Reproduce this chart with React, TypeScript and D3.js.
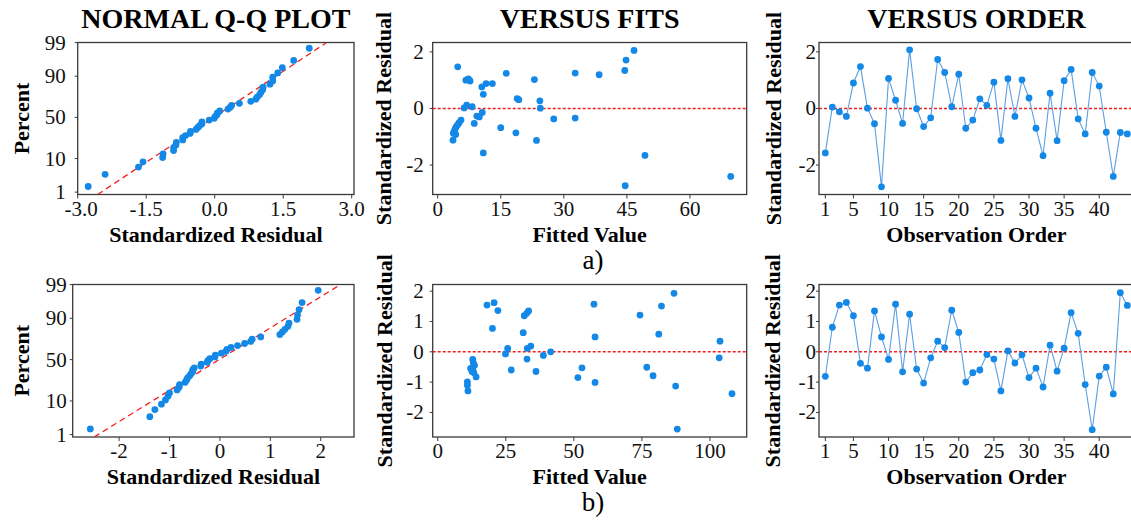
import React from 'react';
import * as d3 from 'd3';

const FONT = "'Liberation Serif', 'Times New Roman', Times, serif";

// ---------- data ----------
const residA = [-1.57, 0.05, -0.12, -0.28, 0.9, 1.48, 0.01, -0.54, -2.77, 1.06, 0.29, -0.53, 2.07, -0.01, -0.64, -0.33, 1.73, 1.27, 0.06, 1.21, -0.7, -0.41, 0.34, 0.11, 0.93, -1.13, 1.05, -0.28, 1.01, 0.37, -0.7, -1.67, 0.54, -1.14, 0.98, 1.38, -0.37, -0.9, 1.27, 0.79, -0.84, -2.4, -0.85, -0.9];
const fitsAX = [4.76, 6.7, 7.3, 7.7, 10.5, 11.5, 13.0, 10.85, 16.3, 18.9, 19.3, 6.3, 6.9, 8.2, 9.3, 9.9, 10.6, 8.7, 15.0, 18.6, 10.85, 5.54, 5.07, 4.67, 4.35, 4.11, 3.87, 3.71, 4.28, 3.64, 23.0, 24.3, 24.4, 23.5, 27.6, 32.7, 32.7, 38.4, 44.5, 44.8, 46.7, 49.3, 44.6, 69.7];
const fitsAY = [1.47, 1.0, 1.04, 0.97, 0.76, 0.88, 0.88, 0.5, 1.24, 0.35, 0.31, 0.02, 0.12, 0.06, -0.27, -0.3, -0.14, -0.53, -0.68, -0.86, -1.57, -0.41, -0.51, -0.59, -0.66, -0.73, -0.83, -0.88, -0.92, -1.12, 1.02, 0.27, 0.01, -1.13, -0.37, 1.25, -0.34, 1.19, 1.34, 1.71, 2.05, -1.66, -2.73, -2.4];

const residB = [-0.81, 0.81, 1.54, 1.63, 1.19, -0.38, -0.54, 1.35, 0.49, -0.25, 1.57, -0.66, 1.24, -0.57, -1.03, -0.2, 0.35, 0.14, 1.37, 0.64, -1.0, -0.69, -0.6, -0.09, -0.24, -1.29, 0.03, -0.37, -0.1, -0.85, -0.54, -1.16, 0.22, -0.64, 0.12, 1.29, 0.61, -1.08, -2.57, -0.8, -0.51, -1.39, 1.95, 1.53];
const fitsBX = [18.1, 20.7, 22.1, 20.1, 12.85, 13.1, 12.1, 12.85, 13.3, 14.1, 13.5, 12.6, 10.9, 10.9, 11.1, 24.9, 25.7, 27.0, 31.4, 31.8, 32.7, 33.4, 32.9, 34.2, 32.8, 36.1, 38.8, 41.5, 51.5, 53.0, 57.4, 57.8, 57.8, 74.3, 76.8, 79.1, 81.2, 82.2, 86.8, 87.4, 88.0, 103.7, 103.4, 108.1];
const fitsBY = [1.54, 1.62, 1.36, 0.77, -0.25, -0.37, -0.55, -0.6, -0.69, -0.83, -0.45, -0.65, -0.99, -1.1, -1.29, -0.07, 0.11, -0.6, 0.63, 1.19, 1.27, 1.35, 0.11, 0.19, -0.24, -0.65, -0.12, 0.0, -0.85, -0.53, 1.57, 0.49, -1.01, 1.21, -0.51, -0.79, 0.58, 1.51, 1.93, -1.13, -2.55, 0.35, -0.2, -1.38];

// fitted normal line: [mean, sd]
const qqLineA = [-0.02, 1.06];
const qqLineB = [-0.015, 1.033];

const pctTicks = [1, 10, 50, 90, 99];
const qqTicksA = [-3, -1.5, 0, 1.5, 3];
const qqTicksB = [-2, -1, 0, 1, 2];
const fitsTicksA = [0, 15, 30, 45, 60];
const fitsTicksB = [0, 25, 50, 75, 100];
const orderTicks = [1, 5, 10, 15, 20, 25, 30, 35, 40];
const residTicksA = [-2, 0, 2];
const residTicksB = [-2, -1, 0, 1, 2];
const titles = ['NORMAL Q-Q PLOT', 'VERSUS FITS', 'VERSUS ORDER'];
const rowLabels = ['a)', 'b)'];

// ---------- styling ----------
const DOT = '#1488e6';
const LINE = '#5b9fe0';
const RED = '#f01e1e';
const AX = '#3a3a3a';

// inverse standard normal CDF (Acklam)
function invNorm(p: number): number {
  const a = [-3.969683028665376e1, 2.209460984245205e2, -2.759285104469687e2, 1.38357751867269e2, -3.066479806614716e1, 2.506628277459239];
  const b = [-5.447609879822406e1, 1.615858368580409e2, -1.556989798598866e2, 6.680131188771972e1, -1.328068155288572e1];
  const c = [-7.784894002430293e-3, -3.223964580411365e-1, -2.400758277161838, -2.549732539343734, 4.374664141464968, 2.938163982698783];
  const d = [7.784695709041462e-3, 3.224671290700398e-1, 2.445134137142996, 3.754408661907416];
  const pl = 0.02425;
  let q: number, r: number;
  if (p < pl) {
    q = Math.sqrt(-2 * Math.log(p));
    return (((((c[0] * q + c[1]) * q + c[2]) * q + c[3]) * q + c[4]) * q + c[5]) / ((((d[0] * q + d[1]) * q + d[2]) * q + d[3]) * q + 1);
  }
  if (p <= 1 - pl) {
    q = p - 0.5;
    r = q * q;
    return ((((((a[0] * r + a[1]) * r + a[2]) * r + a[3]) * r + a[4]) * r + a[5]) * q) / (((((b[0] * r + b[1]) * r + b[2]) * r + b[3]) * r + b[4]) * r + 1);
  }
  q = Math.sqrt(-2 * Math.log(1 - p));
  return -(((((c[0] * q + c[1]) * q + c[2]) * q + c[3]) * q + c[4]) * q + c[5]) / ((((d[0] * q + d[1]) * q + d[2]) * q + d[3]) * q + 1);
}

type FrameProps = {
  left: number; right: number; top: number; bottom: number;
  xs: (v: number) => number; ys: (v: number) => number;
  xTicks: number[]; yTicks: number[];
  xFmt: (v: number) => string; yFmt: (v: number) => string;
  yPos?: (v: number) => number;
  xShift?: (v: number, i: number) => number;
  yGap: number; title?: string; xTitle: string; yTitle: string; yTitleX: number;
};

function Frame(p: FrameProps) {
  const yPos = p.yPos || p.ys;
  const shift = p.xShift || (() => 0);
  return (
    <g>
      <rect x={p.left} y={p.top} width={p.right - p.left} height={p.bottom - p.top} fill="none" stroke={AX} strokeWidth={1.3} />
      {p.xTicks.map((t, i) => (
        <g key={'x' + t}>
          <line x1={p.xs(t)} x2={p.xs(t)} y1={p.bottom} y2={p.bottom + 4} stroke={AX} strokeWidth={1} />
          <text x={p.xs(t) + shift(t, i)} y={p.bottom + 21} textAnchor="middle" fontSize={21} fill="#111">{p.xFmt(t)}</text>
        </g>
      ))}
      {p.yTicks.map((t) => (
        <g key={'y' + t}>
          <line x1={p.left - 3} x2={p.left} y1={yPos(t)} y2={yPos(t)} stroke={AX} strokeWidth={1} />
          <text x={p.left - p.yGap} y={yPos(t) + 7} textAnchor="end" fontSize={21} fill="#111">{p.yFmt(t)}</text>
        </g>
      ))}
      {p.title && (
        <text x={(p.left + p.right) / 2} y={28} textAnchor="middle" fontSize={28} fontWeight="bold" fill="#000">{p.title}</text>
      )}
      <text x={(p.left + p.right) / 2} y={p.bottom + 47} textAnchor="middle" fontSize={22} fontWeight="bold" fill="#000">{p.xTitle}</text>
      <text transform={`translate(${p.yTitleX},${(p.top + p.bottom) / 2}) rotate(-90)`} textAnchor="middle" fontSize={22} fontWeight="bold" fill="#000">{p.yTitle}</text>
    </g>
  );
}

type RowCfg = {
  top: number; bottom: number; qqLeft: number; qqDomain: [number, number]; qqTicks: number[]; qqFmt: (v: number) => string; qqGap: number;
  qqShift?: (v: number, i: number) => number;
  resid: number[]; fx: number[]; fy: number[]; fitsDomain: [number, number]; fitsTicks: number[];
  rDomain: [number, number]; rTicks: number[]; line: number[]; fitsYTitleX: number; orderYTitleX: number; showTitles: boolean;
};

function Row({ cfg, id }: { cfg: RowCfg; id: string }) {
  const qqRight = 354, fitsL = 432.7, fitsR = 746.7, ordL = 819, ordR = 1134;
  const { top, bottom } = cfg;
  // Q-Q
  const qx = d3.scaleLinear().domain(cfg.qqDomain).range([cfg.qqLeft, qqRight]);
  const qy = d3.scaleLinear().domain([-2.4, 2.33]).range([bottom, top]);
  const n = cfg.resid.length;
  const sorted = [...cfg.resid].sort((a, b) => a - b);
  const qqPts = sorted.map((v, i) => ({ x: v, z: invNorm((i + 1 - 0.3) / (n + 0.4)) }));
  const [mu, sd] = cfg.line;
  const zl = qy.domain();
  const lineGen = d3.line<number>().x((z) => qx(mu + sd * z)).y((z) => qy(z));
  // fits
  const fxs = d3.scaleLinear().domain(cfg.fitsDomain).range([fitsL, fitsR]);
  const rys = d3.scaleLinear().domain(cfg.rDomain).range([bottom, top]);
  // order
  const oxs = d3.scaleLinear().domain([0.1, 44.95]).range([ordL, ordR]);
  const orderLine = d3.line<number>().x((_, i) => oxs(i + 1)).y((v) => rys(v));
  const intFmt = (v: number) => String(v);

  return (
    <g>
      <defs>
        <clipPath id={'qqclip' + id}>
          <rect x={cfg.qqLeft} y={top} width={qqRight - cfg.qqLeft} height={bottom - top} />
        </clipPath>
      </defs>
      {/* Q-Q panel */}
      <Frame left={cfg.qqLeft} right={qqRight} top={top} bottom={bottom} xs={qx} ys={qy}
        yPos={(t) => qy(invNorm(t / 100))} xShift={cfg.qqShift}
        xTicks={cfg.qqTicks} yTicks={pctTicks} xFmt={cfg.qqFmt} yFmt={intFmt} yGap={cfg.qqGap}
        title={cfg.showTitles ? titles[0] : undefined} xTitle="Standardized Residual" yTitle="Percent" yTitleX={29} />
      <path d={lineGen([zl[0], zl[1]]) || ''} fill="none" stroke={RED} strokeWidth={1.3} strokeDasharray="6,4" clipPath={`url(#qqclip${id})`} />
      {qqPts.map((d, i) => (
        <circle key={i} cx={qx(d.x)} cy={qy(d.z)} r={3.4} fill={DOT} />
      ))}

      {/* Versus fits */}
      <Frame left={fitsL} right={fitsR} top={top} bottom={bottom} xs={fxs} ys={rys}
        xTicks={cfg.fitsTicks} yTicks={cfg.rTicks} xFmt={intFmt} yFmt={intFmt} yGap={9}
        title={cfg.showTitles ? titles[1] : undefined} xTitle="Fitted Value" yTitle="Standardized Residual" yTitleX={cfg.fitsYTitleX} />
      <line x1={fitsL} x2={fitsR} y1={rys(0)} y2={rys(0)} stroke={RED} strokeWidth={1.6} strokeDasharray="3,2" />
      {cfg.fx.map((x, i) => (
        <circle key={i} cx={fxs(x)} cy={rys(cfg.fy[i])} r={3.4} fill={DOT} />
      ))}

      {/* Versus order */}
      <Frame left={ordL} right={ordR} top={top} bottom={bottom} xs={oxs} ys={rys}
        xTicks={orderTicks} yTicks={cfg.rTicks} xFmt={intFmt} yFmt={intFmt} yGap={3}
        title={cfg.showTitles ? titles[2] : undefined} xTitle="Observation Order" yTitle="Standardized Residual" yTitleX={cfg.orderYTitleX} />
      <line x1={ordL} x2={ordR} y1={rys(0)} y2={rys(0)} stroke={RED} strokeWidth={1.6} strokeDasharray="3,2" />
      <path d={orderLine(cfg.resid) || ''} fill="none" stroke={LINE} strokeWidth={1.1} />
      {cfg.resid.map((v, i) => (
        <circle key={i} cx={oxs(i + 1)} cy={rys(v)} r={3.4} fill={DOT} />
      ))}
    </g>
  );
}

export default function App() {
  const rowA: RowCfg = {
    top: 42.5, bottom: 194.5, qqLeft: 77.7, qqDomain: [-3.0, 3.05], qqTicks: qqTicksA, qqFmt: (v) => v.toFixed(1), qqGap: 12,
    qqShift: (_v, i) => (i === 0 ? 3.5 : 0),
    resid: residA, fx: fitsAX, fy: fitsAY, fitsDomain: [-1.19, 73.5], fitsTicks: fitsTicksA,
    rDomain: [-3.04, 2.33], rTicks: residTicksA, line: qqLineA, fitsYTitleX: 391, orderYTitleX: 781, showTitles: true,
  };
  const rowB: RowCfg = {
    top: 284.5, bottom: 437, qqLeft: 72.7, qqDomain: [-2.92, 2.66], qqTicks: qqTicksB, qqFmt: (v) => String(v), qqGap: 6,
    resid: residB, fx: fitsBX, fy: fitsBY, fitsDomain: [-1.84, 113.5], fitsTicks: fitsTicksB,
    rDomain: [-2.81, 2.22], rTicks: residTicksB, line: qqLineB, fitsYTitleX: 392, orderYTitleX: 780, showTitles: false,
  };
  return (
    <svg width={1131} height={524} style={{ position: 'absolute', left: 0, top: 0, background: '#fff' }} fontFamily={FONT}>
      <rect x={0} y={0} width={1131} height={524} fill="#fff" />
      <Row cfg={rowA} id="a" />
      <Row cfg={rowB} id="b" />
      <text x={593} y={269} textAnchor="middle" fontSize={27} fill="#000">{rowLabels[0]}</text>
      <text x={593} y={511} textAnchor="middle" fontSize={27} fill="#000">{rowLabels[1]}</text>
    </svg>
  );
}
